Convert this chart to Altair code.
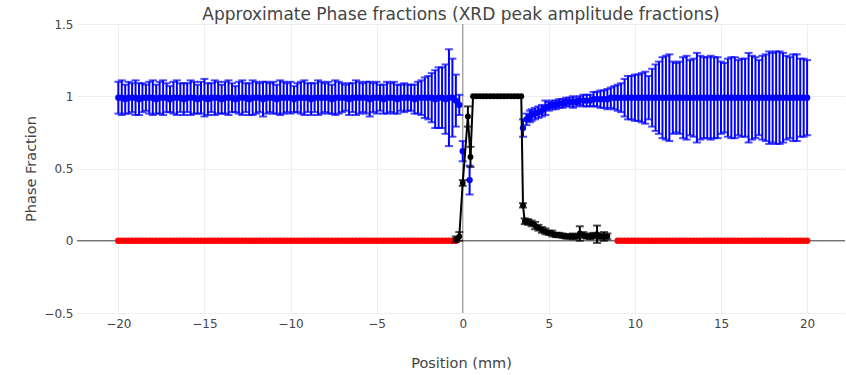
import altair as alt
import pandas as pd

# ---------------- data ----------------
blue_left_x = [
    -20.0, -19.8, -19.6, -19.4, -19.2, -19.0, -18.8, -18.6, -18.4, -18.2,
    -18.0, -17.8, -17.6, -17.4, -17.2, -17.0, -16.8, -16.6, -16.4, -16.2,
    -16.0, -15.8, -15.6, -15.4, -15.2, -15.0, -14.8, -14.6, -14.4, -14.2,
    -14.0, -13.8, -13.6, -13.4, -13.2, -13.0, -12.8, -12.6, -12.4, -12.2,
    -12.0, -11.8, -11.6, -11.4, -11.2, -11.0, -10.8, -10.6, -10.4, -10.2,
    -10.0, -9.8, -9.6, -9.4, -9.2, -9.0, -8.8, -8.6, -8.4, -8.2,
    -8.0, -7.8, -7.6, -7.4, -7.2, -7.0, -6.8, -6.6, -6.4, -6.2,
    -6.0, -5.8, -5.6, -5.4, -5.2, -5.0, -4.8, -4.6, -4.4, -4.2,
    -4.0, -3.8, -3.6, -3.4, -3.2, -3.0, -2.8, -2.6, -2.4, -2.2,
    -2.0, -1.8, -1.6, -1.4, -1.2, -1.0, -0.8, -0.6, -0.4, -0.2,
    0.0, 0.4,
]
blue_left_y = [
    0.99, 0.99, 0.98, 0.99, 0.99, 0.99, 0.98, 0.99, 0.99, 0.99,
    0.99, 0.98, 0.99, 0.99, 0.99, 0.98, 0.99, 0.99, 0.99, 0.98,
    0.99, 0.99, 0.99, 0.98, 0.99, 0.99, 0.98, 0.99, 0.99, 0.99,
    0.98, 0.99, 0.99, 0.99, 0.98, 0.99, 0.99, 0.99, 0.98, 0.99,
    0.99, 0.99, 0.98, 0.99, 0.99, 0.99, 0.98, 0.99, 0.99, 0.99,
    0.99, 0.98, 0.99, 0.99, 0.99, 0.99, 0.98, 0.99, 0.99, 0.99,
    0.99, 0.99, 0.98, 0.99, 0.99, 0.99, 0.99, 0.98, 0.99, 0.99,
    0.99, 0.99, 0.99, 0.98, 0.99, 0.99, 0.99, 0.98, 0.99, 0.99,
    0.99, 0.98, 0.99, 0.99, 0.99, 0.99, 0.98, 0.99, 0.99, 0.99,
    0.99, 0.99, 0.98, 0.99, 0.99, 0.98, 0.99, 0.99, 0.97, 0.94,
    0.62, 0.42,
]
blue_left_err = [
    0.11, 0.12, 0.10, 0.11, 0.10, 0.12, 0.11, 0.10, 0.09, 0.11,
    0.12, 0.10, 0.11, 0.12, 0.10, 0.09, 0.11, 0.12, 0.10, 0.11,
    0.10, 0.12, 0.11, 0.10, 0.11, 0.13, 0.11, 0.10, 0.12, 0.11,
    0.10, 0.11, 0.12, 0.10, 0.09, 0.11, 0.12, 0.10, 0.11, 0.12,
    0.11, 0.10, 0.12, 0.11, 0.10, 0.11, 0.10, 0.12, 0.11, 0.10,
    0.11, 0.09, 0.10, 0.11, 0.12, 0.10, 0.11, 0.10, 0.12, 0.11,
    0.10, 0.11, 0.10, 0.12, 0.11, 0.10, 0.09, 0.11, 0.10, 0.12,
    0.11, 0.10, 0.11, 0.12, 0.10, 0.11, 0.09, 0.10, 0.11, 0.10,
    0.11, 0.10, 0.09, 0.10, 0.09, 0.09, 0.10, 0.11, 0.12, 0.14,
    0.15, 0.17, 0.20, 0.21, 0.21, 0.24, 0.335, 0.27, 0.18, 0.07,
    0.07, 0.10,
]

blue_right_x = [
    3.5, 3.7, 3.9,
    4.0, 4.2, 4.4, 4.6, 4.8, 5.0, 5.2, 5.4, 5.6, 5.8,
    6.0, 6.2, 6.4, 6.6, 6.8, 7.0, 7.2, 7.4, 7.6, 7.8,
    8.0, 8.2, 8.4, 8.6, 8.8, 9.0, 9.2, 9.4, 9.6, 9.8,
    10.0, 10.2, 10.4, 10.6, 10.8, 11.0, 11.2, 11.4, 11.6, 11.8,
    12.0, 12.2, 12.4, 12.6, 12.8, 13.0, 13.2, 13.4, 13.6, 13.8,
    14.0, 14.2, 14.4, 14.6, 14.8, 15.0, 15.2, 15.4, 15.6, 15.8,
    16.0, 16.2, 16.4, 16.6, 16.8, 17.0, 17.2, 17.4, 17.6, 17.8,
    18.0, 18.2, 18.4, 18.6, 18.8, 19.0, 19.2, 19.4, 19.6, 19.8,
    20.0,
]
blue_right_y = [
    0.78, 0.84, 0.86,
    0.87, 0.88, 0.89, 0.90, 0.92, 0.93, 0.94, 0.94, 0.95, 0.95,
    0.96, 0.96, 0.96, 0.96, 0.97, 0.97, 0.97, 0.97, 0.98, 0.98,
    0.98, 0.98, 0.98, 0.99, 0.99, 0.99, 0.99, 0.99, 0.99, 0.99,
    0.99, 0.99, 0.99, 0.99, 0.99, 0.99, 0.99, 0.99, 0.99, 0.99,
    0.99, 0.99, 0.99, 0.99, 0.99, 0.99, 0.99, 0.99, 0.99, 0.99,
    0.99, 0.99, 0.99, 0.99, 0.99, 0.99, 0.99, 0.99, 0.99, 0.99,
    0.99, 0.99, 0.99, 0.99, 0.99, 0.99, 0.99, 0.99, 0.99, 0.99,
    0.99, 0.99, 0.99, 0.99, 0.99, 0.99, 0.99, 0.99, 0.99, 0.99,
    0.99,
]
blue_right_err = [
    0.06, 0.04, 0.04,
    0.04, 0.04, 0.04, 0.04, 0.05, 0.03, 0.03, 0.03, 0.03, 0.03,
    0.03, 0.03, 0.04, 0.03, 0.03, 0.04, 0.04, 0.04, 0.05, 0.05,
    0.06, 0.06, 0.07, 0.07, 0.08, 0.09, 0.10, 0.13, 0.15, 0.15,
    0.16, 0.16, 0.17, 0.18, 0.15, 0.20, 0.23, 0.25, 0.28, 0.29,
    0.30, 0.25, 0.24, 0.25, 0.28, 0.29, 0.26, 0.27, 0.31, 0.29,
    0.28, 0.28, 0.29, 0.28, 0.28, 0.25, 0.24, 0.27, 0.28, 0.28,
    0.26, 0.27, 0.27, 0.31, 0.29, 0.28, 0.26, 0.29, 0.30, 0.32,
    0.31, 0.32, 0.32, 0.31, 0.29, 0.28, 0.30, 0.30, 0.27, 0.27,
    0.26,
]

red_left_x = blue_left_x[:99]          # -20.0 ... -0.4
red_left_y = [
    0, 0, 0, 0, 0, 0, 0, 0, 0, 0,
    0, 0, 0, 0, 0, 0, 0, 0, 0, 0,
    0, 0, 0, 0, 0, 0, 0, 0, 0, 0,
    0, 0, 0, 0, 0, 0, 0, 0, 0, 0,
    0, 0, 0, 0, 0, 0, 0, 0, 0, 0,
    0, 0, 0, 0, 0, 0, 0, 0, 0, 0,
    0, 0, 0, 0, 0, 0, 0, 0, 0, 0,
    0, 0, 0, 0, 0, 0, 0, 0, 0, 0,
    0, 0, 0, 0, 0, 0, 0, 0, 0, 0,
    0, 0, 0, 0, 0, 0, 0, 0, 0,
]
red_right_x = blue_right_x[28:]        # 9.0 ... 20.0
red_right_y = [
    0, 0, 0, 0, 0, 0, 0, 0, 0, 0,
    0, 0, 0, 0, 0, 0, 0, 0, 0, 0,
    0, 0, 0, 0, 0, 0, 0, 0, 0, 0,
    0, 0, 0, 0, 0, 0, 0, 0, 0, 0,
    0, 0, 0, 0, 0, 0, 0, 0, 0, 0,
    0, 0, 0, 0, 0, 0,
]

black_x = [
    -0.4, -0.2, 0.0, 0.3, 0.45,
    0.6, 0.8, 1.0, 1.2, 1.4, 1.6, 1.8, 2.0, 2.2, 2.4, 2.6, 2.8, 3.0, 3.2, 3.4,
    3.5, 3.6, 3.8, 4.0, 4.2, 4.4, 4.6, 4.8, 5.0, 5.2, 5.4, 5.6, 5.8,
    6.0, 6.2, 6.4, 6.6, 6.8, 7.0, 7.2, 7.4, 7.6, 7.8, 8.0, 8.2, 8.4,
]
black_y = [
    0.01, 0.03, 0.40, 0.86, 0.58,
    1.0, 1.0, 1.0, 1.0, 1.0, 1.0, 1.0, 1.0, 1.0, 1.0, 1.0, 1.0, 1.0, 1.0, 1.0,
    0.245, 0.135, 0.13, 0.12, 0.105, 0.09, 0.075, 0.065, 0.055, 0.05, 0.04, 0.04, 0.035,
    0.03, 0.03, 0.03, 0.03, 0.05, 0.04, 0.03, 0.03, 0.035, 0.045, 0.03, 0.03, 0.03,
]
black_err = [
    0.02, 0.03, 0.02, 0.07, 0.07,
    0, 0, 0, 0, 0, 0, 0, 0, 0, 0, 0, 0, 0, 0, 0,
    0.015, 0.02, 0.02, 0.02, 0.025, 0.02, 0.02, 0.02, 0.015, 0.02, 0.015, 0.015, 0.015,
    0.015, 0.015, 0.02, 0.015, 0.05, 0.02, 0.015, 0.02, 0.02, 0.06, 0.02, 0.03, 0.02,
]

x_ticks = [-20, -15, -10, -5, 0, 5, 10, 15, 20]
y_ticks = [-0.5, 0, 0.5, 1, 1.5]

TITLE = "Approximate Phase fractions (XRD peak amplitude fractions)"
X_TITLE = "Position (mm)"
Y_TITLE = "Phase Fraction"

# ---------------- tables ----------------
def table(xs, ys, errs=None):
    rows = []
    for i, (x, y) in enumerate(zip(xs, ys)):
        e = errs[i] if errs is not None else 0
        rows.append({"x": x, "y": y, "lo": y - e, "hi": y + e, "err": e})
    return pd.DataFrame(rows)

blue = pd.concat([table(blue_left_x, blue_left_y, blue_left_err),
                  table(blue_right_x, blue_right_y, blue_right_err)])
red = pd.concat([table(red_left_x, red_left_y), table(red_right_x, red_right_y)])
black = table(black_x, black_y, black_err)
black_e = black[black["err"] > 0]

FONT = "DejaVu Sans"
xscale = alt.Scale(domain=[-22.4, 22.2], nice=False, zero=False)
yscale = alt.Scale(domain=[-0.5, 1.5], nice=False, zero=False)
xaxis = alt.Axis(values=x_ticks, title=X_TITLE, grid=True, labelPadding=5, format="~g",
                 titleY=50, titleBaseline="middle")
yaxis = alt.Axis(values=y_ticks, title=Y_TITLE, grid=True, labelPadding=4, format="~g",
                 titleX=-46, titleBaseline="middle")


def X(field="x"):
    return alt.X(f"{field}:Q", scale=xscale, axis=xaxis)


def Y(field="y"):
    return alt.Y(f"{field}:Q", scale=yscale, axis=yaxis)


zero_h = alt.Chart(pd.DataFrame({"y": [0]})).mark_rule(color="#444", strokeWidth=1).encode(y=Y())
zero_v = alt.Chart(pd.DataFrame({"x": [0]})).mark_rule(color="#888", strokeWidth=1).encode(x=X())

BLUE = "#0000ff"
blue_bars = alt.Chart(blue).mark_rule(color=BLUE, strokeWidth=2).encode(
    x=X(), y=Y("lo"), y2="hi")
blue_cap_lo = alt.Chart(blue).mark_tick(color=BLUE, thickness=2, size=8, orient="horizontal").encode(
    x=X(), y=Y("lo"))
blue_cap_hi = alt.Chart(blue).mark_tick(color=BLUE, thickness=2, size=8, orient="horizontal").encode(
    x=X(), y=Y("hi"))
blue_pts = alt.Chart(blue).mark_circle(color=BLUE, size=40, opacity=1).encode(x=X(), y=Y())

red_pts = alt.Chart(red).mark_circle(color="#ff0000", size=42, opacity=1).encode(x=X(), y=Y())

black_line = alt.Chart(black).mark_line(color="#000000", strokeWidth=2).encode(
    x=X(), y=Y(), order="x:Q")
black_bars = alt.Chart(black_e).mark_rule(color="#000000", strokeWidth=2).encode(
    x=X(), y=Y("lo"), y2="hi")
black_cap_lo = alt.Chart(black_e).mark_tick(color="#000000", thickness=2, size=8, orient="horizontal").encode(
    x=X(), y=Y("lo"))
black_cap_hi = alt.Chart(black_e).mark_tick(color="#000000", thickness=2, size=8, orient="horizontal").encode(
    x=X(), y=Y("hi"))
black_pts = alt.Chart(black).mark_circle(color="#000000", size=34, opacity=1).encode(x=X(), y=Y())

chart = alt.layer(
    zero_h, zero_v,
    red_pts,
    blue_bars, blue_cap_lo, blue_cap_hi, blue_pts,
    black_line, black_bars, black_cap_lo, black_cap_hi, black_pts,
).properties(
    width=768,
    height=289,
    autosize=alt.AutoSizeParams(type="none"),
    padding={"left": 77, "top": 24, "right": 1, "bottom": 62},
    title=alt.TitleParams(TITLE, font=FONT, fontSize=17, fontWeight="normal",
                          color="#444", anchor="middle", offset=-6),
).configure_view(
    stroke=None
).configure_axis(
    domain=False, ticks=False, tickSize=0,
    gridColor="#eeeeee", gridWidth=1,
    labelFont=FONT, labelFontSize=12, labelColor="#444",
    titleFont=FONT, titleFontSize=14.5, titleColor="#444", titleFontWeight="normal",
)

chart.save("out.html", embed_options={"renderer": "svg", "actions": False})
